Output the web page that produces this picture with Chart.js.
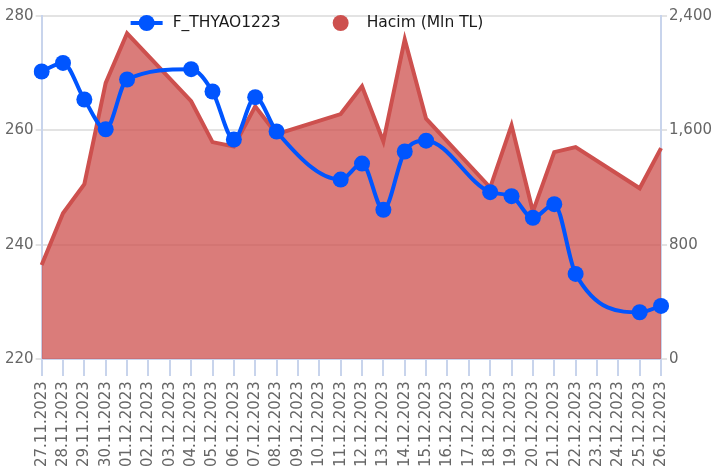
<!DOCTYPE html>
<html lang="en">
<head>
	<meta charset="UTF-8">
	<title>THYAO</title>
	<script src="https://cdn.jsdelivr.net/npm/chart.js"></script>
	<style>
		body { margin: 0; background: #fff; }
		#wrap { width: 715px; height: 472px; }
	</style>
</head>
<body>
	<div id="wrap"><canvas id="myChart"></canvas></div>
	<script>
	// dates (weekends have no data)
	let labels = ['27.11.2023','28.11.2023','29.11.2023','30.11.2023','01.12.2023','02.12.2023','03.12.2023','04.12.2023',
		'05.12.2023','06.12.2023','07.12.2023','08.12.2023','09.12.2023','10.12.2023','11.12.2023','12.12.2023',
		'13.12.2023','14.12.2023','15.12.2023','16.12.2023','17.12.2023','18.12.2023','19.12.2023','20.12.2023',
		'21.12.2023','22.12.2023','23.12.2023','24.12.2023','25.12.2023','26.12.2023']
	let price = [270.3, 271.8, 265.4, 260.2, 268.9, null, null, 270.7,
		266.8, 258.4, 265.8, 259.8, null, null, 251.4, 254.2,
		246.1, 256.3, 258.2, null, null, 249.2, 248.5, 244.7,
		247.1, 234.9, null, null, 228.2, 229.3]
	let volume = [658, 1020, 1223, 1932, 2279, null, null, 1804,
		1518, 1488, 1768, 1574, null, null, 1714, 1909,
		1523, 2236, 1682, null, null, 1200, 1635, 1032,
		1448, 1483, null, null, 1195, 1476]
	let leftTicks = [220, 240, 260, 280]
	let rightTicks = [0, 800, 1600, 2400]

	const blue = '#0055ff'
	const red = '#cd504e'

	// legend drawn on top of the plot, like the original
	const overlayLegend = {
		id: 'overlayLegend',
		afterDatasetsDraw(c) {
			let g = c.ctx
			let a = c.chartArea
			g.save()
			g.font = '15.5px "DejaVu Sans"'
			g.textBaseline = 'middle'
			let y = a.top + 7
			let x = a.left + 89
			// first item: line with dot
			g.strokeStyle = blue; g.lineWidth = 4
			g.beginPath(); g.moveTo(x, y); g.lineTo(x + 32, y); g.stroke()
			g.fillStyle = blue
			g.beginPath(); g.arc(x + 16, y, 8, 0, Math.PI * 2); g.fill()
			g.fillStyle = '#1a1a1a'
			let t0 = c.data.datasets[0].label
			g.fillText(t0, x + 42, y)
			x += 42 + g.measureText(t0).width + 60
			// second item: dot
			g.fillStyle = red
			g.beginPath(); g.arc(x, y, 8, 0, Math.PI * 2); g.fill()
			g.fillStyle = '#1a1a1a'
			g.fillText(c.data.datasets[1].label, x + 26, y)
			g.restore()
		}
	}

	var ctx = document.getElementById('myChart').getContext('2d')
	var chart = new Chart(ctx, {
		type: 'line',
		data: {
			labels: labels,
			datasets: [{
				label: 'F_THYAO1223',
				data: price,
				yAxisID: 'y',
				borderColor: blue,
				backgroundColor: blue,
				borderWidth: 4,
				pointRadius: 8,
				pointHoverRadius: 8,
				pointBackgroundColor: blue,
				pointBorderWidth: 0,
				cubicInterpolationMode: 'monotone',
				spanGaps: true,
				order: 0
			}, {
				label: 'Hacim (Mln TL)',
				data: volume,
				yAxisID: 'y1',
				borderColor: red,
				backgroundColor: 'rgba(205, 80, 78, 0.75)',
				borderWidth: 4,
				pointRadius: 0,
				tension: 0,
				fill: 'origin',
				spanGaps: true,
				order: 1
			}]
		},
		options: {
			responsive: true,
			maintainAspectRatio: false,
			animation: false,
			layout: { padding: { top: 16, right: 1, left: 3, bottom: 0 } },
			plugins: {
				legend: { display: false },
				tooltip: { enabled: false }
			},
			scales: {
				x: {
					offset: false,
					grid: { display: true, drawOnChartArea: false, color: '#c8d4ec', lineWidth: 2, tickLength: 17 },
					border: { color: '#c8d4ec', width: 2 },
					ticks: {
						autoSkip: false, maxRotation: 90, minRotation: 90,
						color: '#666', font: { family: 'DejaVu Sans', size: 15 }, padding: 5
					}
				},
				y: {
					position: 'left',
					min: 220, max: 280,
					afterBuildTicks: (s) => { s.ticks = leftTicks.map(v => ({ value: v })) },
					grid: { color: '#e3e3e3', lineWidth: 2, drawTicks: true, tickLength: 6 },
					border: { color: '#c8d4ec', width: 2 },
					ticks: { color: '#666', font: { family: 'DejaVu Sans', size: 15 }, padding: 2 }
				},
				y1: {
					position: 'right',
					min: 0, max: 2400,
					afterBuildTicks: (s) => { s.ticks = rightTicks.map(v => ({ value: v })) },
					grid: { drawOnChartArea: false, color: '#e3e3e3', lineWidth: 2, tickLength: 6 },
					border: { color: '#c8d4ec', width: 2 },
					ticks: { color: '#666', font: { family: 'DejaVu Sans', size: 15 }, padding: 2 }
				}
			}
		},
		plugins: [overlayLegend]
	})
	</script>
</body>
</html>
